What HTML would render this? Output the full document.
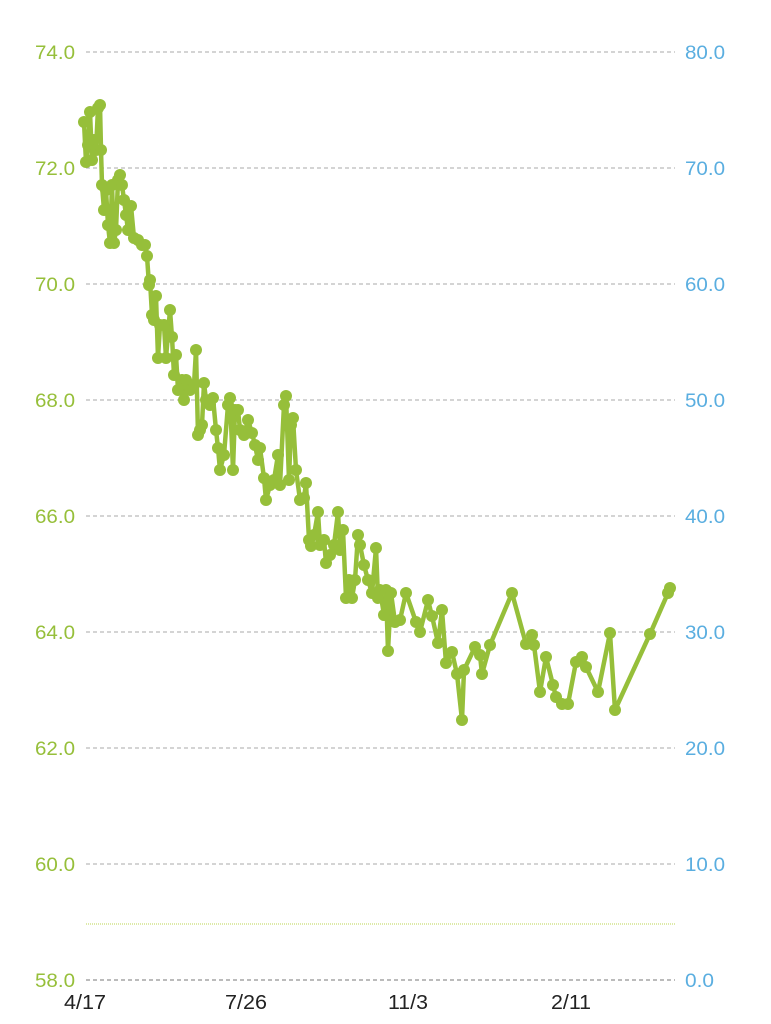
<!DOCTYPE html>
<html><head><style>body{margin:0;background:#fff}svg{display:block}</style></head><body>
<svg width="771" height="1024" xmlns="http://www.w3.org/2000/svg" font-family="Liberation Sans, sans-serif">
<g stroke="#aaa" stroke-width="1" stroke-dasharray="4,3">
<line x1="86" y1="52" x2="675" y2="52"/><line x1="86" y1="168" x2="675" y2="168"/><line x1="86" y1="284" x2="675" y2="284"/><line x1="86" y1="400" x2="675" y2="400"/><line x1="86" y1="516" x2="675" y2="516"/><line x1="86" y1="632" x2="675" y2="632"/><line x1="86" y1="748" x2="675" y2="748"/><line x1="86" y1="864" x2="675" y2="864"/>
<line x1="86" y1="980" x2="675" y2="980" stroke="#777"/>
</g>
<line x1="86" y1="924" x2="675" y2="924" stroke="#d2e38a" stroke-width="1.5" stroke-dasharray="1,1"/>
<g fill="#96bf3a" font-size="19" text-anchor="end" lengthAdjust="spacingAndGlyphs">
<text x="75" y="59" textLength="40" lengthAdjust="spacingAndGlyphs">74.0</text><text x="75" y="175" textLength="40" lengthAdjust="spacingAndGlyphs">72.0</text><text x="75" y="291" textLength="40" lengthAdjust="spacingAndGlyphs">70.0</text><text x="75" y="407" textLength="40" lengthAdjust="spacingAndGlyphs">68.0</text><text x="75" y="523" textLength="40" lengthAdjust="spacingAndGlyphs">66.0</text><text x="75" y="639" textLength="40" lengthAdjust="spacingAndGlyphs">64.0</text><text x="75" y="755" textLength="40" lengthAdjust="spacingAndGlyphs">62.0</text><text x="75" y="871" textLength="40" lengthAdjust="spacingAndGlyphs">60.0</text><text x="75" y="987" textLength="40" lengthAdjust="spacingAndGlyphs">58.0</text>
</g>
<g fill="#5aaee0" font-size="19">
<text x="685" y="59" textLength="40" lengthAdjust="spacingAndGlyphs">80.0</text><text x="685" y="175" textLength="40" lengthAdjust="spacingAndGlyphs">70.0</text><text x="685" y="291" textLength="40" lengthAdjust="spacingAndGlyphs">60.0</text><text x="685" y="407" textLength="40" lengthAdjust="spacingAndGlyphs">50.0</text><text x="685" y="523" textLength="40" lengthAdjust="spacingAndGlyphs">40.0</text><text x="685" y="639" textLength="40" lengthAdjust="spacingAndGlyphs">30.0</text><text x="685" y="755" textLength="40" lengthAdjust="spacingAndGlyphs">20.0</text><text x="685" y="871" textLength="40" lengthAdjust="spacingAndGlyphs">10.0</text><text x="685" y="987" textLength="29" lengthAdjust="spacingAndGlyphs">0.0</text>
</g>
<g fill="#222" font-size="20" text-anchor="middle">
<text x="85" y="1009" textLength="42" lengthAdjust="spacingAndGlyphs">4/17</text><text x="246" y="1009" textLength="42" lengthAdjust="spacingAndGlyphs">7/26</text><text x="408" y="1009" textLength="40" lengthAdjust="spacingAndGlyphs">11/3</text><text x="571" y="1009" textLength="40" lengthAdjust="spacingAndGlyphs">2/11</text>
</g>
<polyline id="p" fill="none" stroke="#96bf3a" stroke-width="4.5" stroke-linejoin="round" points="84,122 86,162 88,145 90,112 92,160 94,140 96,150 98,108 100,105 101,150 102,185 104,210 106,190 108,225 110,243 112,185 114,243 116,230 118,180 120,175 122,185 124,200 126,215 128,230 131,206 134,238 138,240 142,245 145,245 147,256 149,285 150,280 152,315 154,320 156,296 158,358 160,325 164,325 166,358 170,310 172,337 174,375 176,355 178,390 182,380 184,400 186,380 190,390 194,385 196,350 198,435 200,430 202,425 204,383 206,400 210,405 213,398 216,430 218,448 220,470 224,455 228,405 230,398 233,470 235,410 238,410 240,430 244,435 248,420 252,433 255,445 258,460 260,448 264,478 266,500 270,485 274,480 278,455 280,485 284,405 286,396 289,480 291,425 293,418 296,470 300,500 304,498 306,483 309,540 311,546 314,535 318,512 320,545 324,540 326,563 330,555 334,545 338,512 340,550 343,530 346,598 349,580 352,598 355,580 358,535 360,545 364,565 368,580 372,593 376,548 378,598 380,590 384,615 386,590 388,651 391,593 395,622 400,620 406,593 416,622 420,632 428,600 432,616 438,643 442,610 446,663 452,652 457,674 462,720 464,670 475,647 480,655 482,674 490,645 512,593 526,644 532,635 534,645 540,692 546,657 553,685 556,697 562,704 568,704 576,662 582,657 586,667 598,692 610,633 615,710 650,634 668,593 670,588"/>
<g id="dots" fill="#96bf3a"></g>
<script>
var pts=document.getElementById('p').getAttribute('points').trim().split(/\s+/);var g=document.getElementById('dots');
pts.forEach(function(s){var a=s.split(',');var c=document.createElementNS('http://www.w3.org/2000/svg','circle');c.setAttribute('cx',a[0]);c.setAttribute('cy',a[1]);c.setAttribute('r','6');g.appendChild(c);});
</script>
</svg>
</body></html>
